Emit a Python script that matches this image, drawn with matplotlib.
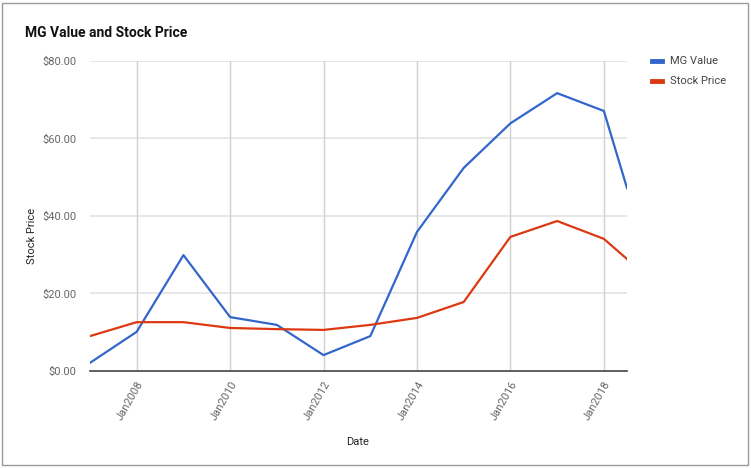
import matplotlib.pyplot as plt
import matplotlib.dates as mdates
from matplotlib.patches import Rectangle
from datetime import datetime

# data (yearly, last point mid-2018)
dates = [datetime(y, 1, 1) for y in range(2007, 2019)] + [datetime(2018, 7, 1)]
mg_value = [2.1, 10.1, 29.9, 13.9, 11.9, 4.1, 9.0, 35.9, 52.4, 63.9, 71.7, 67.1, 47.2]
stock_price = [9.0, 12.6, 12.6, 11.1, 10.8, 10.6, 11.9, 13.7, 17.8, 34.6, 38.7, 34.1, 28.9]
tick_years = [2008, 2010, 2012, 2014, 2016, 2018]
y_ticks = [0, 20, 40, 60, 80]

plt.rcParams['font.family'] = ['Roboto', 'DejaVu Sans']

fig = plt.figure(figsize=(7.51, 4.68), dpi=100)
ax = fig.add_axes([0.1198, 0.2073, 0.7151, 0.6624])

ax.plot(dates, mg_value, color='#3366CC', lw=1.6, label='MG Value', zorder=3)
ax.plot(dates, stock_price, color='#DC3912', lw=1.6, label='Stock Price', zorder=3)

ax.set_xlim(dates[0], dates[-1])
ax.set_ylim(0, 80)

ax.set_yticks(y_ticks)
ax.set_yticklabels(['${:.2f}'.format(v) for v in y_ticks])
ax.set_xticks([datetime(y, 1, 1) for y in tick_years])
ax.set_xticklabels(['Jan%d' % y for y in tick_years], rotation=60, ha='right', rotation_mode='anchor')

# grid
for v in y_ticks[1:]:
    ax.axhline(v, color='#e3e3e3', lw=1.2, zorder=1)
for y in tick_years:
    ax.axvline(datetime(y, 1, 1), color='#d0d0d0', lw=1.0, zorder=1)
ax.axhline(0, color='#444444', lw=1.2, zorder=2, clip_on=False)

for s in ax.spines.values():
    s.set_visible(False)
ax.tick_params(length=0, labelsize=8, labelcolor='#666666')
ax.tick_params(axis='y', pad=10)
ax.tick_params(axis='x', pad=6)

ax.set_xlabel('Date', fontsize=8, color='#222222')
ax.xaxis.set_label_coords(0.499, -0.213)
ax.set_ylabel('Stock Price', fontsize=8, color='#222222', va='center')
ax.yaxis.set_label_coords(-0.108, 0.435)

fig.text(25 / 751, 1 - 33 / 468, 'MG Value and Stock Price', fontsize=10, fontweight='bold',
         color='#111111', va='center', ha='left')

leg = ax.legend(loc='upper left', bbox_to_anchor=(1.027, 1.047), frameon=False, fontsize=8,
                handlelength=0.9, handleheight=0.3, labelspacing=0.9, handletextpad=0.8)
for t in leg.get_texts():
    t.set_color('#444444')
for h in leg.get_lines():
    h.set_linewidth(3.5)

# outer frame
fig.patches.append(Rectangle((2 / 751, 3 / 468), 746 / 751, 462 / 468, transform=fig.transFigure,
                             fill=False, edgecolor='#999999', lw=1.0))

fig.savefig('out.png', dpi=100)
